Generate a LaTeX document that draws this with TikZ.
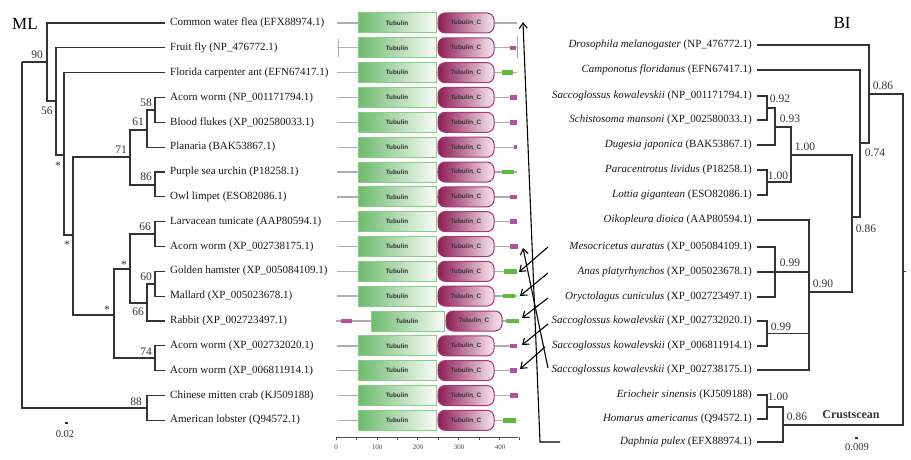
\documentclass[tikz,border=0pt]{standalone}
\usepackage{fontspec}
\setmainfont{Liberation Serif}
\setsansfont{Liberation Sans}
\usetikzlibrary{arrows.meta}
\definecolor{treec}{HTML}{333333}
\definecolor{tubg}{HTML}{6DBA6D}
\definecolor{tubb}{HTML}{86D086}
\definecolor{tcd}{HTML}{8C1D54}
\definecolor{tcl}{HTML}{F8E6EF}
\definecolor{tcb}{HTML}{A8357A}
\definecolor{gline}{HTML}{B3ABB1}
\definecolor{mtag}{HTML}{B84FA0}
\definecolor{gtag}{HTML}{5DBB3F}
\tikzset{
  br/.style={draw=treec, line width=1.1pt},
  brr/.style={draw=treec, line width=1.4pt},
  lab/.style={font=\fontsize{11}{13}\selectfont, inner sep=0pt, text=black!90},
  num/.style={font=\fontsize{11.5}{13}\selectfont, inner sep=0pt, text=treec},
  big/.style={font=\fontsize{17}{19}\selectfont, inner sep=0pt},
  gl/.style={draw=gline, line width=1.4pt},
  tubbox/.style={left color=tubg, right color=white!95!tubg, draw=tubb, line width=1pt},
  tcbox/.style={left color=tcd, right color=tcl, draw=tcb, line width=1pt, rounded corners=7pt},
  dtxt/.style={font=\sffamily\bfseries\fontsize{6.3}{7}\selectfont, inner sep=0pt, text=black!80},
  axl/.style={font=\fontsize{7}{8}\selectfont, inner sep=0pt, text=black!70},
  arr/.style={draw=black, line width=1.1pt, -{Straight Barb[length=5.5pt,width=8pt]}},
}
\begin{document}
\begin{tikzpicture}[x=1pt,y=-1pt]
\useasboundingbox (0,0) rectangle (911,460);
\fill[white] (0,0) rectangle (911,460);

% ---------------- ML tree ----------------
\node[big] (ML) at (25,24) {ML};
\foreach \i/\yy/\t in {
 1/23/{Common water flea (EFX88974.1)},
 2/47.8/{Fruit fly (NP\_476772.1)},
 3/72.7/{Florida carpenter ant (EFN67417.1)},
 4/97.5/{Acorn worm (NP\_001171794.1)},
 5/122.3/{Blood flukes (XP\_002580033.1)},
 6/147.2/{Planaria (BAK53867.1)},
 7/172/{Purple sea urchin (P18258.1)},
 8/196.8/{Owl limpet (ESO82086.1)},
 9/221.6/{Larvacean tunicate (AAP80594.1)},
 10/246.5/{Acorn worm (XP\_002738175.1)},
 11/271.3/{Golden hamster (XP\_005084109.1)},
 12/296.1/{Mallard (XP\_005023678.1)},
 13/321/{Rabbit (XP\_002723497.1)},
 14/345.8/{Acorn worm (XP\_002732020.1)},
 15/370.6/{Acorn worm (XP\_006811914.1)},
 16/395.5/{Chinese mitten crab (KJ509188)},
 17/420.3/{American lobster (Q94572.1)}}
 { \node[lab, anchor=west] (L\i) at (170,\yy) {\t}; }

\draw[br] (22,62) -- (47,62);
\draw[br] (22,62) -- (22,408) -- (147,408);
\draw[br] (165,23) -| (47,101) -- (56,101);
\draw[br] (165,47.8) -| (56,155) -- (64,155);
\draw[br] (165,72.7) -| (64,235) -- (73,235);
\draw[br] (130,157) -| (73,315) -- (114,315);
\draw[br] (147,130) -| (130,185) -- (155,185);
\draw[br] (155,110) -| (147,147.2) -- (165,147.2);
\draw[br] (165,97.5) -| (155,122.3) -- (165,122.3);
\draw[br] (165,172) -| (155,196.8) -- (165,196.8);
\draw[br] (130,269) -| (114,358) -- (155,358);
\draw[br] (155,234) -| (130,303) -- (147,303);
\draw[br] (165,221.6) -| (155,246.5) -- (165,246.5);
\draw[br] (155,284) -| (147,321) -- (165,321);
\draw[br] (165,271.3) -| (155,296.1) -- (165,296.1);
\draw[br] (165,345.8) -| (155,370.6) -- (165,370.6);
\draw[br] (165,395.5) -| (147,420.3) -- (165,420.3);

\node[num] (b90) at (37,55) {90};
\node[num] (b56) at (47,111) {56};
\node[num] (s1) at (58,166) {*};
\node[num] (b71) at (121,150) {71};
\node[num] (b58) at (146,103) {58};
\node[num] (b61) at (138,122) {61};
\node[num] (b86) at (146,177) {86};
\node[num] (b66a) at (145,227) {66};
\node[num] (s2) at (67,245) {*};
\node[num] (s3) at (124,265) {*};
\node[num] (b60) at (146,277) {60};
\node[num] (s4) at (107,310) {*};
\node[num] (b66b) at (138,312) {66};
\node[num] (b74) at (146,352) {74};
\node[num] (b88) at (136,402) {88};
\draw[treec, line width=1.5pt] (65,423) -- (67.5,423);
\node[num, font=\fontsize{10.5}{12}\selectfont] (sc1) at (65,434) {0.02};

% ---------------- domains ----------------
\foreach \i/\yy in {1/23,2/47.8,3/72.7,4/97.5,5/122.3,6/147.2,7/172,8/196.8,9/221.6,10/246.5,11/271.3,12/296.1,14/345.8,15/370.6,16/395.5,17/420.3}{
  \draw[gl] (337,\yy) -- (517,\yy);
  \shadedraw[tubbox] (358,\yy-10) rectangle (436,\yy+10);
  \shadedraw[tcbox] (438,\yy-10) rectangle (494,\yy+10);
  \node[dtxt] (T\i) at (397,\yy) {Tubulin};
  \node[dtxt] (C\i) at (466,\yy) {Tubulin\_C};
}
% row 13 (rabbit), shifted
\draw[gl] (336,321) -- (519,321);
\fill[mtag] (341,318.8) rectangle (352,323.2);
\shadedraw[tubbox] (371,311) rectangle (444,331);
\shadedraw[tcbox] (446,311) rectangle (502,331);
\node[dtxt] (T13) at (407,321) {Tubulin};
\node[dtxt] (C13) at (474,321) {Tubulin\_C};
\fill[gtag] (506,318.8) rectangle (519,323.2);
% fruit fly bars
\draw[gline, line width=1pt] (338,39) -- (338,57);
\draw[gline, line width=1pt] (517,36) -- (517,58);
% tags
\foreach \yy/\a/\b in {47.8/510/516,97.5/510/517,122.3/510/517,147.2/514/517,196.8/510/517,221.6/510/517,246.5/510/518,345.8/510/517,370.6/510/517,395.5/510/518}
  {\fill[mtag] (\a,\yy-2.2) rectangle (\b,\yy+2.2);}
\foreach \yy/\a/\b in {72.7/502/513,172/502/514,271.3/504/517,296.1/503/515,420.3/503/516}
  {\fill[gtag] (\a,\yy-2.2) rectangle (\b,\yy+2.2);}
% axis
\draw[black!70, line width=0.8pt] (336,437) -- (518,437);
\foreach \k in {0,...,9}{\draw[black!70, line width=0.6pt] (336+20.4*\k,437) -- (336+20.4*\k,439.5);}
\foreach \v/\x in {0/336,100/377,200/418,300/459,400/500}{\node[axl] (ax\v) at (\x,447) {\v};}

% ---------------- BI tree ----------------
\node[big] (BI) at (842,23) {BI};
\foreach \i/\yy/\t in {
 1/45/{\textit{Drosophila melanogaster} (NP\_476772.1)},
 2/70/{\textit{Camponotus floridanus} (EFN67417.1)},
 3/96/{\textit{Saccoglossus kowalevskii} (NP\_001171794.1)},
 4/120/{\textit{Schistosoma mansoni} (XP\_002580033.1)},
 5/145/{\textit{Dugesia japonica} (BAK53867.1)},
 6/170/{\textit{Paracentrotus lividus} (P18258.1)},
 7/195/{\textit{Lottia gigantean} (ESO82086.1)},
 8/220/{\textit{Oikopleura dioica} (AAP80594.1)},
 9/247/{\textit{Mesocricetus auratus} (XP\_005084109.1)},
 10/272/{\textit{Anas platyrhynchos} (XP\_005023678.1)},
 11/297/{\textit{Oryctolagus cuniculus} (XP\_002723497.1)},
 12/321/{\textit{Saccoglossus kowalevskii} (XP\_002732020.1)},
 13/346/{\textit{Saccoglossus kowalevskii} (XP\_006811914.1)},
 14/370/{\textit{Saccoglossus kowalevskii} (XP\_002738175.1)},
 15/395/{\textit{Eriocheir sinensis} (KJ509188)},
 16/419/{\textit{Homarus americanus} (Q94572.1)},
 17/442/{\textit{Daphnia pulex} (EFX88974.1)}}
 { \node[lab, anchor=east] (R\i) at (752,\yy) {\t}; }

\draw[brr] (757,45) -| (869,143) -- (860,143);
\draw[brr] (869,94) -| (903,425) -- (783,425);
\draw[brr] (757,70) -| (860,217) -- (852,217);
\draw[brr] (791,155) -| (852,292) -- (809,292);
\draw[brr] (775,127) -| (791,182) -- (767,182);
\draw[brr] (767,108) -| (775,145) -- (757,145);
\draw[brr] (757,96) -| (767,120) -- (757,120);
\draw[brr] (757,170) -| (767,195) -- (757,195);
\draw[brr] (757,220) -| (809,370) -- (757,370);
\draw[brr] (757,247) -| (775,297) -- (757,297);
\draw[brr] (757,272) -- (809,272);
\draw[brr] (757,321) -| (767,346) -- (757,346);
\draw[brr] (767,333.5) -- (809,333.5);
\draw[brr] (767,407) -| (783,442) -- (757,442);
\draw[brr] (757,395) -| (767,419) -- (757,419);
\draw[treec, line width=1pt] (903,271) -- (906,271);

\node[num] (p1) at (883,86) {0.86};
\node[num] (p2) at (875,153) {0.74};
\node[num] (p3) at (866,229) {0.86};
\node[num] (p4) at (780,99) {0.92};
\node[num] (p5) at (790,119) {0.93};
\node[num] (p6) at (778,176) {1.00};
\node[num] (p7) at (805,147) {1.00};
\node[num] (p8) at (790,263) {0.99};
\node[num] (p9) at (781,327) {0.99};
\node[num] (p10) at (823,284) {0.90};
\node[num] (p11) at (778,397) {1.00};
\node[num] (p12) at (797,417) {0.86};
\node[num, font=\bfseries\fontsize{12}{14}\selectfont] (crus) at (851,415) {Crustscean};
\draw[treec, line width=1.5pt] (855,438) -- (857.5,438);
\node[num, font=\fontsize{10.5}{12}\selectfont] (sc2) at (857,447) {0.009};

% ---------------- arrows ----------------
\coordinate (aF) at (523,22);
\coordinate (aK) at (540,442);
\coordinate (aD) at (560,442);
\draw[arr] (aD) -- (aK) -- (aF);
\coordinate (a10) at (523,248);
\coordinate (s14) at (548,368);
\draw[arr] (s14) -- (a10);
\coordinate (s9) at (548,247);  \coordinate (a11) at (519,272);
\coordinate (s10) at (548,273); \coordinate (a12) at (520,296);
\coordinate (s11) at (548,298); \coordinate (a13) at (522,318);
\coordinate (s12) at (548,324); \coordinate (a14) at (522,345);
\coordinate (s13) at (545,347); \coordinate (a15) at (520,369);
\draw[arr] (s9) -- (a11);
\draw[arr] (s10) -- (a12);
\draw[arr] (s11) -- (a13);
\draw[arr] (s12) -- (a14);
\draw[arr] (s13) -- (a15);
\end{tikzpicture}
\end{document}
